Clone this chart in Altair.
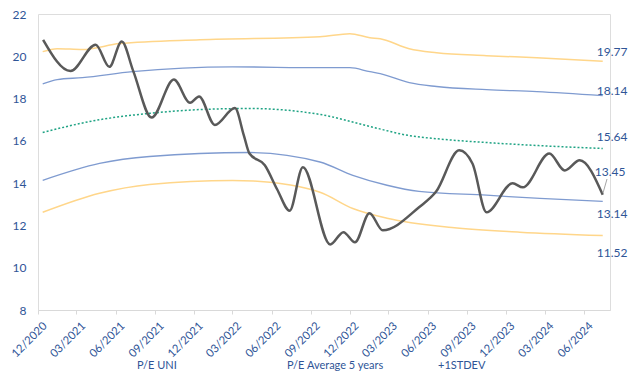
import altair as alt
import pandas as pd

# ---------------- data ----------------
uni_dates = ["2020-12-13", "2021-02-15", "2021-04-15", "2021-05-17", "2021-06-15",
             "2021-07-12", "2021-08-24", "2021-10-15", "2021-11-22", "2021-12-13",
             "2022-01-19", "2022-03-07", "2022-03-28", "2022-04-10", "2022-05-16",
             "2022-06-14", "2022-07-13", "2022-08-13", "2022-10-16", "2022-11-16",
             "2022-12-13", "2023-01-16", "2023-02-16", "2023-05-12", "2023-06-21",
             "2023-08-14", "2023-09-14", "2023-10-17", "2023-12-17", "2024-01-10",
             "2024-03-12", "2024-04-17", "2024-05-22", "2024-07-15"]
uni_vals = [20.78, 19.30, 20.55, 19.50, 20.70,
            19.30, 17.10, 18.90, 17.80, 18.10,
            16.75, 17.55, 16.25, 15.40, 14.85,
            13.70, 12.70, 14.75, 11.10, 11.68,
            11.20, 12.58, 11.77, 12.86, 13.60,
            15.55, 14.93, 12.62, 13.99, 13.80,
            15.40, 14.60, 15.08, 13.45]

top2_dates = ["2020-12-12", "2021-01-15", "2021-03-15", "2021-06-10", "2021-12-15",
              "2022-09-22", "2022-12-01", "2023-01-17", "2023-02-10", "2023-04-19",
              "2023-06-22", "2023-10-17", "2024-02-12", "2024-07-15"]
top2_vals = [20.22, 20.36, 20.32, 20.60, 20.78,
             20.92, 21.07, 20.88, 20.83, 20.36,
             20.17, 20.03, 19.93, 19.77]

top1_dates = ["2020-12-12", "2021-01-15", "2021-03-15", "2021-07-10", "2022-03-01",
              "2022-09-22", "2022-12-01", "2023-01-17", "2023-02-10", "2023-04-19",
              "2023-06-22", "2023-10-17", "2024-02-12", "2024-07-15"]
top1_vals = [18.70, 18.90, 18.99, 19.27, 19.50,
             19.46, 19.46, 19.27, 19.18, 18.75,
             18.57, 18.42, 18.33, 18.14]

avg_dates = ["2020-12-12", "2021-04-24", "2021-08-19", "2021-12-15", "2022-04-10",
             "2022-09-22", "2023-01-17", "2023-04-19", "2023-06-22", "2023-10-17",
             "2024-02-12", "2024-07-15"]
avg_vals = [16.40, 17.00, 17.30, 17.48, 17.53,
            17.25, 16.68, 16.25, 16.10, 15.92,
            15.78, 15.64]

low1_dates = ["2020-12-12", "2021-04-24", "2021-08-19", "2022-04-10", "2022-09-22",
              "2022-12-08", "2023-02-26", "2023-05-12", "2023-10-17", "2024-02-19",
              "2024-07-15"]
low1_vals = [14.13, 14.93, 15.26, 15.45, 15.00,
             14.37, 13.90, 13.61, 13.43, 13.28,
             13.14]

low2_dates = ["2020-12-12", "2021-04-24", "2021-08-19", "2022-03-01", "2022-04-20",
              "2022-09-22", "2022-12-08", "2023-02-26", "2023-07-28", "2024-01-03",
              "2024-07-15"]
low2_vals = [12.62, 13.52, 13.94, 14.13, 14.10,
             13.57, 12.80, 12.34, 11.90, 11.68,
             11.52]

y_ticks = [8, 10, 12, 14, 16, 18, 20, 22]
tick_months = [(2020, 12), (2021, 3), (2021, 6), (2021, 9), (2021, 12), (2022, 3),
               (2022, 6), (2022, 9), (2022, 12), (2023, 3), (2023, 6), (2023, 9),
               (2023, 12), (2024, 3), (2024, 6)]
legend_labels = ["P/E UNI", "P/E Average 5 years", "+1STDEV"]

# ---------------- styling ----------------
FONT = "Lato"
TXT = "#2F5597"
YELLOW = "#FFD68A"
BLUE = "#7F9BD0"
GREEN = "#1FA384"
DARK = "#595959"


def frame(dates, vals):
    return pd.DataFrame({"date": pd.to_datetime(dates), "value": vals})


x_scale = alt.Scale(domain=[alt.DateTime(year=2020, month=12, date=1),
                            alt.DateTime(year=2024, month=8, date=1)])
y_scale = alt.Scale(domain=[8, 22], nice=False, zero=False)

x_enc = alt.X("date:T", scale=x_scale, title=None,
              axis=alt.Axis(values=[alt.DateTime(year=y, month=m, date=1) for y, m in tick_months],
                            format="%m/%Y", labelAngle=-45, labelAlign="right",
                            labelBaseline="middle", labelPadding=10, labelOffset=7,
                            labelColor=TXT, labelFont=FONT, labelFontSize=11.3,
                            domainColor="#D9D9D9", tickColor="#D9D9D9", tickSize=4,
                            grid=False, labelOverlap=False))
y_enc = alt.Y("value:Q", scale=y_scale, title=None,
              axis=alt.Axis(values=y_ticks, labelColor=TXT, labelFont=FONT,
                            labelFontSize=12, domain=False, ticks=False, grid=False,
                            labelPadding=12))


def line(df, color, width, dash=None):
    kw = dict(interpolate="monotone", color=color, strokeWidth=width)
    if dash:
        kw["strokeDash"] = dash
    return alt.Chart(df).mark_line(**kw).encode(x=x_enc, y=y_enc)


layers = [
    line(frame(top2_dates, top2_vals), YELLOW, 1.5),
    line(frame(low2_dates, low2_vals), YELLOW, 1.5),
    line(frame(top1_dates, top1_vals), BLUE, 1.3),
    line(frame(low1_dates, low1_vals), BLUE, 1.3),
    line(frame(avg_dates, avg_vals), GREEN, 1.5, [2, 2]),
    line(frame(uni_dates, uni_vals), DARK, 2.5),
]

# leader line for the last P/E UNI value
layers.append(alt.Chart(pd.DataFrame({"a": [0]})).mark_rule(color="#A6A6A6", strokeWidth=1).encode(
    x=alt.value(565), x2=alt.value(569), y=alt.value(179), y2=alt.value(165)))

# end-value labels
ends = [(top2_dates, top2_vals, -9, -6), (top1_dates, top1_vals, -5, -6),
        (avg_dates, avg_vals, -11, -6), (uni_dates, uni_vals, -23, -8),
        (low1_dates, low1_vals, 13, -6), (low2_dates, low2_vals, 17, -6)]
for d, v, dy, dx in ends:
    df = pd.DataFrame({"date": pd.to_datetime([d[-1]]), "value": [v[-1]],
                       "label": [f"{v[-1]:.2f}"]})
    layers.append(alt.Chart(df).mark_text(align="left", baseline="middle", dx=dx, dy=dy,
                                          font=FONT, fontSize=12, color=TXT).encode(
        x=alt.X("date:T", scale=x_scale), y=alt.Y("value:Q", scale=y_scale), text="label:N"))

# legend row at the bottom
for lbl, xp in zip(legend_labels, [99, 249, 400]):
    layers.append(alt.Chart(pd.DataFrame({"t": [lbl]})).mark_text(
        align="left", baseline="bottom", font=FONT, fontSize=11, color=TXT).encode(
        x=alt.value(xp), y=alt.value(357), text="t:N"))

chart = alt.layer(*layers).properties(
    width=572, height=296,
    autosize=alt.AutoSizeParams(type="none"),
    padding={"left": 30, "top": 6, "right": 22, "bottom": 63},
).configure_view(stroke=None).configure(background="white")

chart.save("out.html", embed_options={"renderer": "svg", "actions": False})
